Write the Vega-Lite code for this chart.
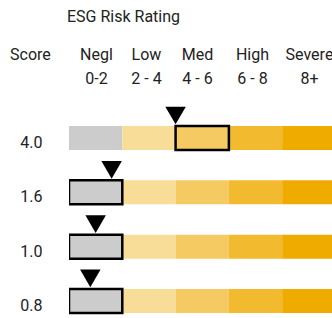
{
  "$schema": "https://vega.github.io/schema/vega-lite/v6.json",
  "width": 263,
  "height": 218,
  "autosize": {"type": "none"},
  "padding": {"left": 69, "top": 100, "right": 0, "bottom": 0},
  "background": "white",
  "config": {"view": {"stroke": null}, "font": "Roboto"},
  "title": {"text": "ESG Risk Rating", "anchor": "start", "frame": "group", "fontSize": 16, "fontWeight": "normal", "font": "Roboto", "color": "#222222", "baseline": "alphabetic", "dx": -2, "offset": 9},
  "datasets": {
    "segments": [
      {"row": "4.0", "score": 4.0, "cat": "Negl", "start": 0, "end": 2},
      {"row": "4.0", "score": 4.0, "cat": "Low", "start": 2, "end": 4},
      {"row": "4.0", "score": 4.0, "cat": "Med", "start": 4, "end": 6},
      {"row": "4.0", "score": 4.0, "cat": "High", "start": 6, "end": 8},
      {"row": "4.0", "score": 4.0, "cat": "Severe", "start": 8, "end": 10},
      {"row": "1.6", "score": 1.6, "cat": "Negl", "start": 0, "end": 2},
      {"row": "1.6", "score": 1.6, "cat": "Low", "start": 2, "end": 4},
      {"row": "1.6", "score": 1.6, "cat": "Med", "start": 4, "end": 6},
      {"row": "1.6", "score": 1.6, "cat": "High", "start": 6, "end": 8},
      {"row": "1.6", "score": 1.6, "cat": "Severe", "start": 8, "end": 10},
      {"row": "1.0", "score": 1.0, "cat": "Negl", "start": 0, "end": 2},
      {"row": "1.0", "score": 1.0, "cat": "Low", "start": 2, "end": 4},
      {"row": "1.0", "score": 1.0, "cat": "Med", "start": 4, "end": 6},
      {"row": "1.0", "score": 1.0, "cat": "High", "start": 6, "end": 8},
      {"row": "1.0", "score": 1.0, "cat": "Severe", "start": 8, "end": 10},
      {"row": "0.8", "score": 0.8, "cat": "Negl", "start": 0, "end": 2},
      {"row": "0.8", "score": 0.8, "cat": "Low", "start": 2, "end": 4},
      {"row": "0.8", "score": 0.8, "cat": "Med", "start": 4, "end": 6},
      {"row": "0.8", "score": 0.8, "cat": "High", "start": 6, "end": 8},
      {"row": "0.8", "score": 0.8, "cat": "Severe", "start": 8, "end": 10}
    ],
    "scores": [
      {"row": "4.0", "score": 4.0},
      {"row": "1.6", "score": 1.6},
      {"row": "1.0", "score": 1.0},
      {"row": "0.8", "score": 0.8}
    ]
  },
  "encoding": {
    "y": {
      "field": "row",
      "type": "nominal",
      "sort": ["4.0", "1.6", "1.0", "0.8"],
      "scale": {"paddingInner": 0.5583, "paddingOuter": 0.2854, "align": 0.8384},
      "axis": {
        "title": "Score",
        "titleAngle": 0,
        "titleAlign": "left",
        "titleBaseline": "alphabetic",
        "titleX": -59.5,
        "titleY": -40.5,
        "titleFontSize": 16,
        "titleFontWeight": "normal",
        "titleFont": "Roboto",
        "titleColor": "#222222",
        "domain": false,
        "ticks": false,
        "grid": false,
        "labelFontSize": 16,
        "labelFont": "Roboto",
        "labelColor": "#222222",
        "labelAlign": "right",
        "labelBaseline": "alphabetic",
        "labelOffset": 10,
        "labelPadding": 27
      }
    }
  },
  "layer": [
    {
      "data": {"name": "segments"},
      "mark": {"type": "bar", "clip": true, "cornerRadius": 0},
      "encoding": {
        "x": {
          "field": "start",
          "type": "quantitative",
          "title": null,
          "scale": {"domain": [0, 9.87], "nice": false, "zero": false},
          "axis": {
            "orient": "top",
            "title": null,
            "domain": false,
            "ticks": false,
            "grid": false,
            "values": [1.013, 2.889, 4.803, 6.867, 9.006],
            "labelExpr": "datum.value < 2 ? ['Negl', '0-2'] : datum.value < 4 ? ['Low', '2 - 4'] : datum.value < 6 ? ['Med', '4 - 6'] : datum.value < 8 ? ['High', '6 - 8'] : ['Severe', '8+']",
            "labelFontSize": 16,
            "labelFont": "Roboto",
            "labelColor": "#222222",
            "labelAlign": "center",
            "labelBaseline": "alphabetic",
            "labelLineHeight": 24,
            "labelPadding": 40.5,
            "labelFlush": false,
            "labelOverlap": false,
            "labelBound": false
          }
        },
        "x2": {"field": "end"},
        "color": {
          "field": "cat",
          "type": "nominal",
          "legend": null,
          "scale": {
            "domain": ["Negl", "Low", "Med", "High", "Severe"],
            "range": ["#cccccc", "#f8dd98", "#f5ca63", "#f2ba2f", "#f0ab00"]
          }
        }
      }
    },
    {
      "data": {"name": "segments"},
      "transform": [{"filter": "datum.score >= datum.start && datum.score < datum.end"}],
      "mark": {"type": "bar", "clip": true, "stroke": "#000000", "strokeWidth": 2.5, "cornerRadius": 0},
      "encoding": {
        "x": {"field": "start", "type": "quantitative", "title": null},
        "x2": {"field": "end"},
        "color": {"field": "cat", "type": "nominal", "legend": null}
      }
    },
    {
      "data": {"name": "scores"},
      "mark": {"type": "point", "shape": "triangle-down", "size": 420, "filled": true, "opacity": 1, "color": "#000000", "yOffset": -22.5},
      "encoding": {
        "x": {"field": "score", "type": "quantitative", "title": null}
      }
    }
  ]
}
